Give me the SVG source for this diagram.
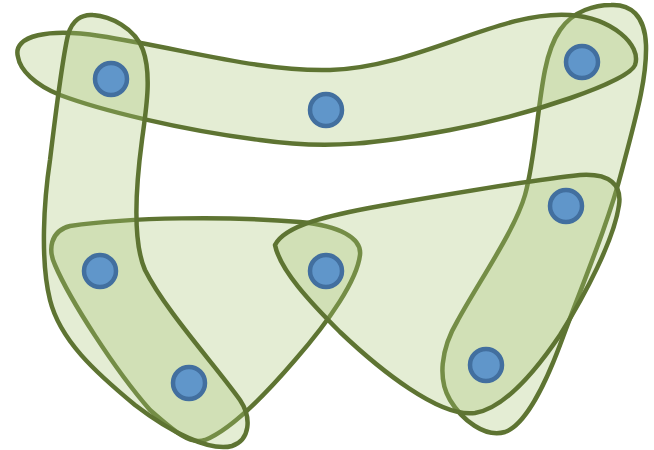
<svg xmlns="http://www.w3.org/2000/svg" width="654" height="450" viewBox="0 0 654 450">
<style>
.edge{fill:#a8c574;fill-opacity:0.31;stroke:#5e7432;stroke-width:4.5;stroke-linejoin:round}
.node circle{fill:#6096ca;stroke:#426f9f;stroke-width:4.5}
</style>
<rect width="654" height="450" fill="#ffffff"/>
<g id="hyperedges">
<path id="edgeF" class="edge" d="M 611,5 C 630,4 645,15 646,45 C 647,80 635,120 622,170 C 608,225 580,290 560,345 C 545,385 525,425 505,432 C 485,438 462,420 450,400 C 438,380 440,350 458,320 C 480,280 515,230 525,195 C 535,160 537,110 545,70 C 552,35 565,18 585,10 C 595,6 603,5 611,5 Z"/>
<path id="edgeC" class="edge" d="M 70,226 C 130,217 230,216 300,222 C 340,226 362,238 360,255 C 357,280 330,320 295,360 C 265,395 230,430 205,440 C 190,445 175,432 150,410 C 115,370 70,300 55,265 C 48,250 50,231 70,226 Z"/>
<path id="edgeE" class="edge" d="M 275,245 C 285,225 330,215 380,206 C 450,194 530,180 580,175 C 610,173 622,185 619,205 C 614,240 585,295 560,335 C 535,372 505,408 475,413 C 440,418 380,370 340,332 C 310,302 280,270 275,245 Z"/>
<path id="edgeA" class="edge" d="M 18,57 C 12,35 50,28 100,36 C 180,48 260,72 330,70 C 420,67 500,10 570,15 C 612,18 642,45 635,65 C 628,82 530,115 450,130 C 380,143 330,150 260,140 C 180,130 100,110 60,95 C 35,85 20,70 18,57 Z"/>
<path id="edgeB" class="edge" d="M 93,15 C 110,16 135,28 143,50 C 152,75 146,110 142,140 C 136,185 132,240 145,270 C 165,310 215,365 240,400 C 252,418 250,440 232,446 C 210,452 170,432 135,405 C 95,372 60,340 50,300 C 40,260 44,200 50,160 C 56,110 62,60 68,35 C 72,20 82,14 93,15 Z"/>
</g>
<g id="n1" class="node"><circle cx="111" cy="79" r="16"/></g>
<g id="n2" class="node"><circle cx="326" cy="110" r="16"/></g>
<g id="n3" class="node"><circle cx="582" cy="62" r="16"/></g>
<g id="n4" class="node"><circle cx="566" cy="206" r="16"/></g>
<g id="n5" class="node"><circle cx="100" cy="271" r="16"/></g>
<g id="n6" class="node"><circle cx="326" cy="271" r="16"/></g>
<g id="n7" class="node"><circle cx="189" cy="383" r="16"/></g>
<g id="n8" class="node"><circle cx="486" cy="365" r="16"/></g>
</svg>
